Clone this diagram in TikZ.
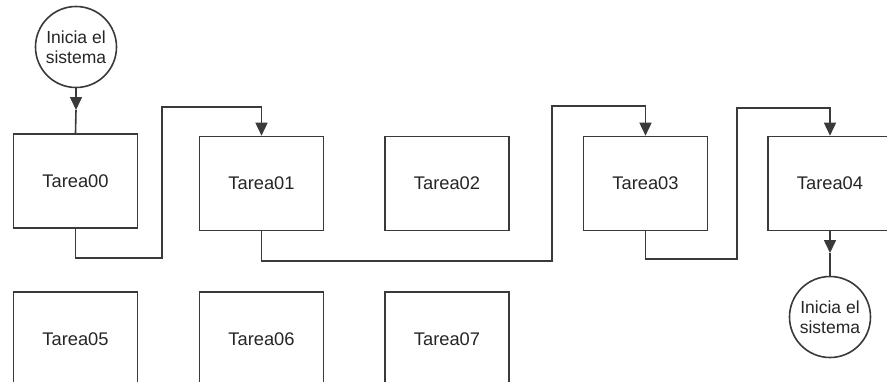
\documentclass[tikz,border=0pt]{standalone}
\usepackage{fontspec}
\setmainfont{Liberation Sans}
\usetikzlibrary{arrows.meta}
\definecolor{ink}{HTML}{3A3A3A}
\tikzset{
  task/.style={draw=ink, line width=1.6pt, fill=white, minimum width=124pt, minimum height=94pt,
    inner sep=0pt, font=\fontsize{18.3}{20}\selectfont, text=black!85},
  startnode/.style={draw=ink, line width=1.6pt, circle, minimum size=81pt, inner sep=0pt, align=center,
    font=\fontsize{17.5}{20}\selectfont, text=black!85},
  link/.style={draw=ink, line width=1.6pt},
  headed/.style={link, -{Triangle[width=12pt,length=13pt]}},
}
\begin{document}
\begin{tikzpicture}[x=1pt, y=-1pt]
\clip (0,0) rectangle (887,381);
\fill[white] (0,0) rectangle (887,381);

% upper row of tasks
\node[task] (t0) at (75.5,181) {Tarea00};
\node[task] (t1) at (261.5,183.5) {Tarea01};
\node[task] (t2) at (447,183.5) {Tarea02};
\node[task] (t3) at (645.5,183.5) {Tarea03};
\node[task] (t4) at (830,183.5) {Tarea04};

% lower row of tasks
\node[task] (t5) at (75.5,339) {Tarea05};
\node[task] (t6) at (261.5,339) {Tarea06};
\node[task] (t7) at (447,339) {Tarea07};

% start and end markers
\node[startnode] (s0) at (76,47) {Inicia el\\sistema};
\node[startnode] (s1) at (830,317) {Inicia el\\sistema};

% entry into the first task, head placed mid-way
\coordinate (m0) at (76,110);
\draw[headed] (s0.south) -- (m0);
\draw[link] (m0) -- (t0.north);

% task chain
\draw[headed] (t0.south) |- (162,258) |- (t1.north |- 0,107) -- (t1.north);
\draw[headed] (t1.south) |- (552,261) |- (t3.north |- 0,106) -- (t3.north);
\draw[headed] (t3.south) |- (737,259) |- (t4.north |- 0,108) -- (t4.north);

% exit from the last task, head placed mid-way
\coordinate (m1) at (830,253);
\draw[headed] (t4.south) -- (m1);
\draw[link] (m1) -- (s1.north);
\end{tikzpicture}
\end{document}
